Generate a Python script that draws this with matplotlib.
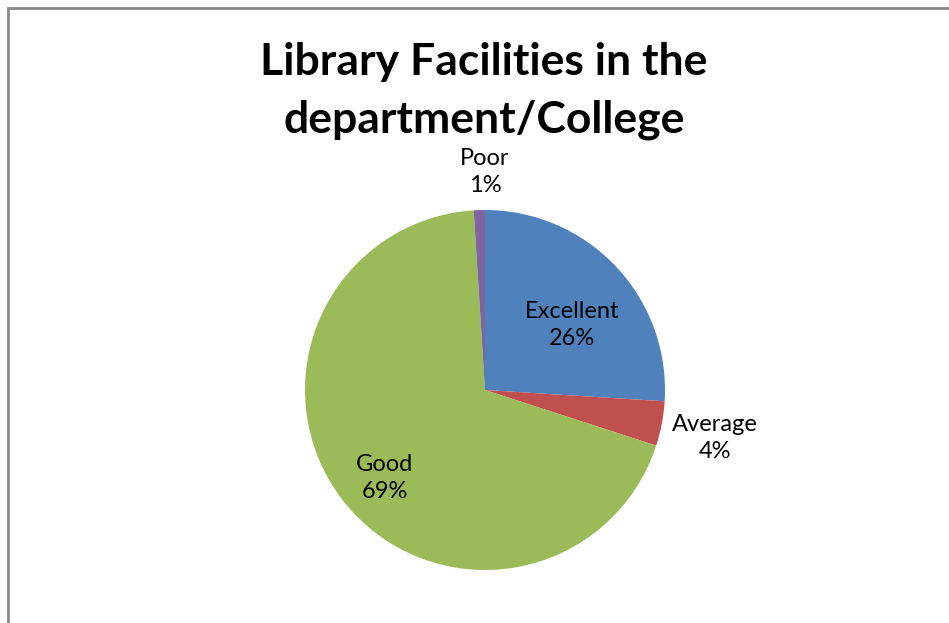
import matplotlib
matplotlib.use("Agg")
import matplotlib.pyplot as plt
from matplotlib.patches import Rectangle

plt.rcParams['font.family'] = ['Lato', 'DejaVu Sans']

categories = ['Excellent', 'Average', 'Good', 'Poor']
shares = [26, 4, 69, 1]
colors = ['#4F81BD', '#C0504D', '#9BBB59', '#8064A2']
# label anchor points, in pie radius units (as Excel's best fit placed them)
label_x = [0.483, 1.278, -0.556, 0.0]
label_y = [0.361, -0.267, -0.489, 1.211]

W, H = 949, 623
fig = plt.figure(figsize=(W / 100, H / 100), dpi=100)

# outer chart border (runs off the right and bottom edges)
fig.patches.append(Rectangle((7.5 / W, -0.1), 1.2, (H - 8.5) / H + 0.1,
                             transform=fig.transFigure, fill=False,
                             edgecolor='#898989', linewidth=2))

cx, cy, r = 485, 390, 180
ax = fig.add_axes([(cx - r) / W, (H - cy - r) / H, 2 * r / W, 2 * r / H])
ax.pie(shares, colors=colors, startangle=90, counterclock=False,
       wedgeprops=dict(linewidth=0))
ax.set_xlim(-1, 1)
ax.set_ylim(-1, 1)
ax.set_aspect('equal')
ax.axis('off')

for name, val, x, y in zip(categories, shares, label_x, label_y):
    ax.text(x, y, f'{name}\n{val}%', ha='center', va='center',
            fontsize=17, linespacing=1.4, color='black')

fig.text(484 / W, 1 - 91 / H, 'Library Facilities in the\ndepartment/College',
         ha='center', va='center', fontsize=32, fontweight='bold',
         linespacing=1.5)

fig.savefig('out.png', dpi=100)
